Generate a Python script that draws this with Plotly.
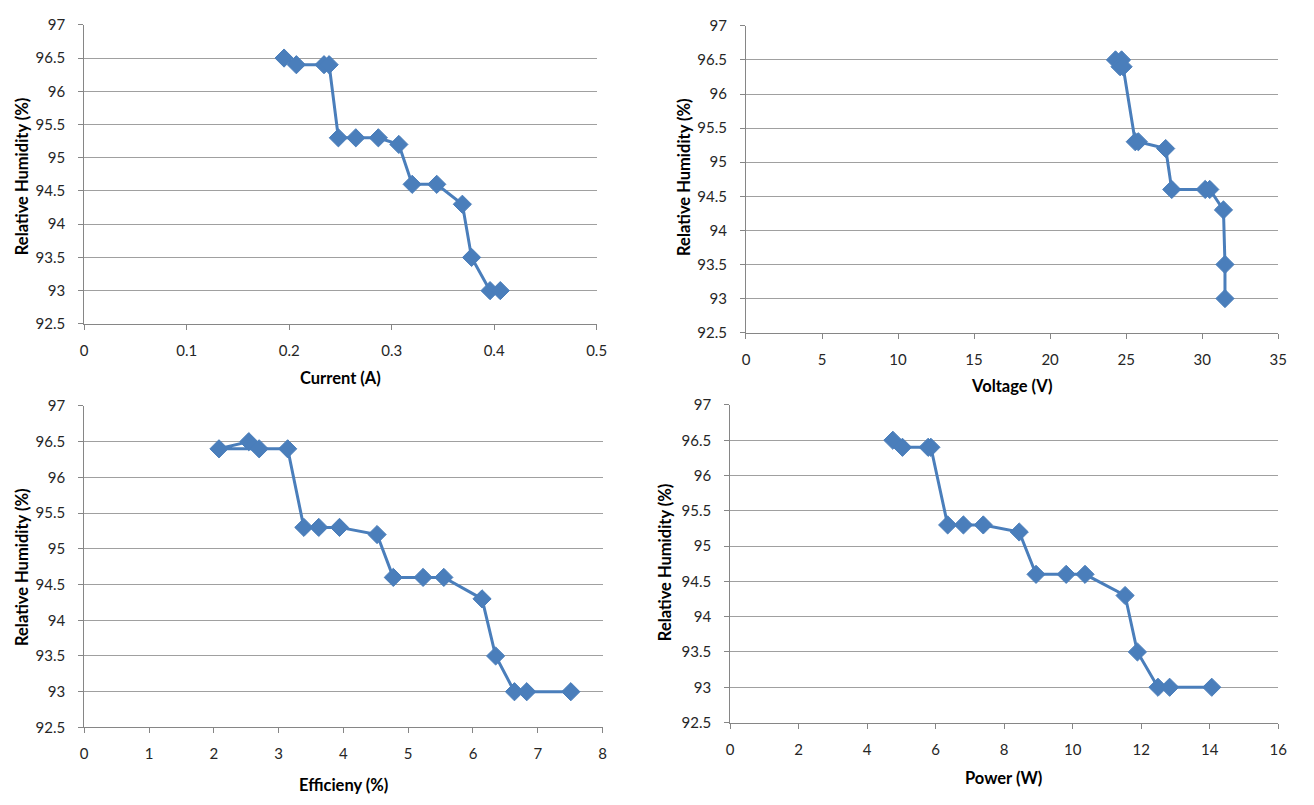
import plotly.graph_objects as go

# ---- data ----
current_a = [0.195, 0.207, 0.234, 0.239, 0.248, 0.265, 0.287, 0.307, 0.320, 0.344, 0.369, 0.378, 0.396, 0.406]
rh_current = [96.5, 96.4, 96.4, 96.4, 95.3, 95.3, 95.3, 95.2, 94.6, 94.6, 94.3, 93.5, 93.0, 93.0]

voltage_v = [24.3, 24.7, 24.6, 24.8, 25.6, 25.8, 27.6, 28.0, 30.2, 30.5, 31.4, 31.5, 31.5]
rh_voltage = [96.5, 96.5, 96.4, 96.4, 95.3, 95.3, 95.2, 94.6, 94.6, 94.6, 94.3, 93.5, 93.0]

efficiency_pct = [2.54, 2.08, 2.70, 3.14, 3.39, 3.62, 3.94, 4.52, 4.77, 5.23, 5.55, 6.14, 6.35, 6.64, 6.83, 7.51]
rh_efficiency = [96.5, 96.4, 96.4, 96.4, 95.3, 95.3, 95.3, 95.2, 94.6, 94.6, 94.6, 94.3, 93.5, 93.0, 93.0, 93.0]

power_w = [4.75, 5.03, 5.78, 5.86, 6.35, 6.81, 7.39, 8.44, 8.93, 9.81, 10.36, 11.53, 11.89, 12.49, 12.83, 14.06]
rh_power = [96.5, 96.4, 96.4, 96.4, 95.3, 95.3, 95.3, 95.2, 94.6, 94.6, 94.6, 94.3, 93.5, 93.0, 93.0, 93.0]

x_titles = ["Current (A)", "Voltage (V)", "Efficieny (%)", "Power (W)"]
y_title = "Relative Humidity (%)"
x_ranges = [[0, 0.5], [0, 35], [0, 8], [0, 16]]
x_dticks = [0.1, 5, 1, 2]
y_range = [92.5, 97]

# ---- layout geometry (window pixels; the page body adds an 8px margin) ----
OFF = 8
W, H = 1314 - 2 * OFF, 805 - 2 * OFF
# (left, right, top, bottom) of each plot area in window pixels
boxes = [(81, 599, 15, 321), (750, 1288, 16, 330), (81, 605, 405, 734), (734, 1288, 404, 729)]
xtitle_pos = [(340, 376), (1018, 385), (343, 793), (1010, 786)]
ytitle_pos = [(18, 170), (688, 171), (18, 570), (668, 565)]


def px(x):
    return (x - OFF) / W


def py(y):
    return 1 - (y - OFF) / H


COLOR = "#4a7ebb"
TICKFONT = dict(family="Lato, 'Open Sans', sans-serif", size=15, color="#262626")
TITLEFONT = dict(family="Lato, 'Open Sans', sans-serif", size=16.5, color="#000000")

series = [(current_a, rh_current), (voltage_v, rh_voltage), (efficiency_pct, rh_efficiency), (power_w, rh_power)]

fig = go.Figure()
layout = dict(
    width=W, height=H, margin=dict(l=0, r=0, t=0, b=0),
    paper_bgcolor="white", plot_bgcolor="white", showlegend=False,
    annotations=[],
)

for i, ((xs, ys), (l, r, t, b)) in enumerate(zip(series, boxes)):
    n = "" if i == 0 else str(i + 1)
    fig.add_trace(go.Scatter(
        x=xs, y=ys, mode="lines+markers",
        xaxis="x" + n, yaxis="y" + n,
        line=dict(color=COLOR, width=3),
        marker=dict(symbol="diamond", size=14, color=COLOR, line=dict(color=COLOR, width=1)),
        cliponaxis=False,
    ))
    layout["xaxis" + n] = dict(
        domain=[px(l), px(r)], anchor="y" + n, range=x_ranges[i], dtick=x_dticks[i], tick0=0,
        showgrid=False, zeroline=False, showline=True, linecolor="#868686", linewidth=1,
        ticks="outside", ticklen=5, tickcolor="#868686", tickfont=TICKFONT, ticklabelstandoff=8,
    )
    layout["yaxis" + n] = dict(
        domain=[py(b), py(t)], anchor="x" + n, range=y_range, dtick=0.5, tick0=92.5,
        showgrid=True, gridcolor="#a0a0a0", gridwidth=1, zeroline=False,
        showline=True, linecolor="#868686", linewidth=1,
        ticks="outside", ticklen=5, tickcolor="#868686", tickfont=TICKFONT, ticklabelstandoff=10,
    )
    xt, yt = xtitle_pos[i]
    layout["annotations"].append(dict(
        text="<b>" + x_titles[i] + "</b>", x=px(xt), y=py(yt), xref="paper", yref="paper",
        showarrow=False, font=TITLEFONT, xanchor="center", yanchor="middle",
    ))
    xt, yt = ytitle_pos[i]
    layout["annotations"].append(dict(
        text="<b>" + y_title + "</b>", x=px(xt), y=py(yt), xref="paper", yref="paper",
        showarrow=False, font=TITLEFONT, textangle=-90, xanchor="center", yanchor="middle",
    ))

fig.update_layout(**layout)
fig.write_html("out.html")
